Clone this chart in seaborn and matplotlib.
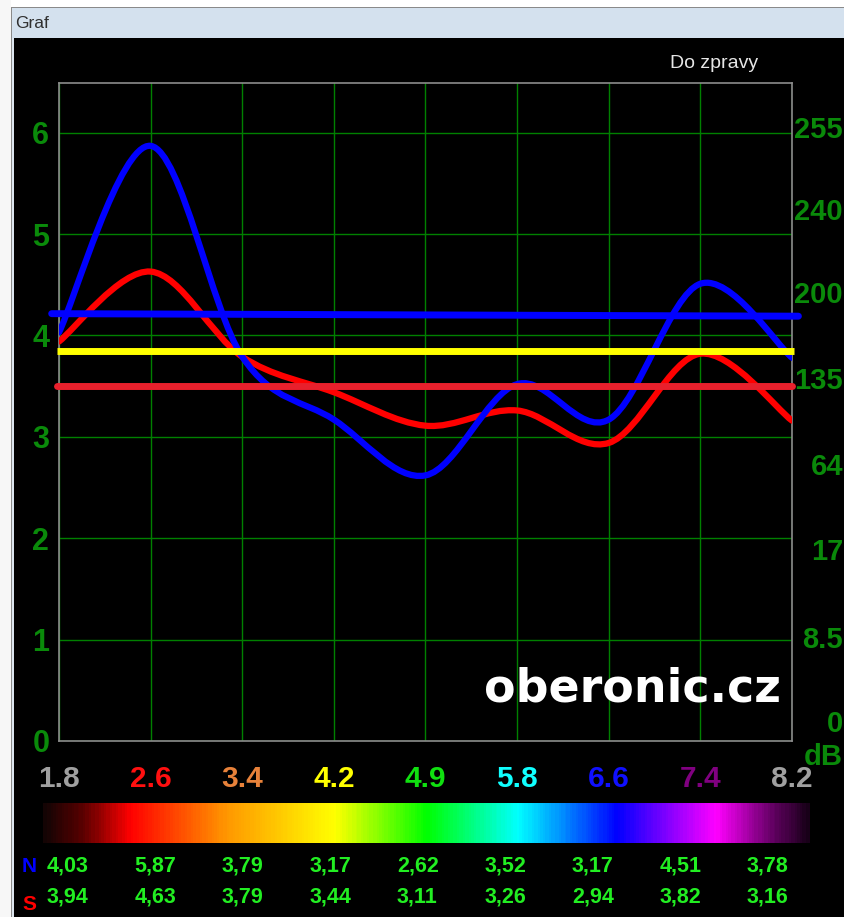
import numpy as np
import seaborn as sns
import matplotlib
matplotlib.use("Agg")
import matplotlib.pyplot as plt
from matplotlib.path import Path
from matplotlib.patches import PathPatch, Rectangle
from matplotlib.colors import LinearSegmentedColormap
from matplotlib.transforms import blended_transform_factory

freq_labels = ["1.8", "2.6", "3.4", "4.2", "4.9", "5.8", "6.6", "7.4", "8.2"]
freq_colors = ["#a0a0a0", "#ff1010", "#e8823a", "#ffff00", "#10e010",
               "#10ffff", "#1010ff", "#800080", "#a0a0a0"]
north = [4.03, 5.87, 3.79, 3.17, 2.62, 3.52, 3.17, 4.51, 3.78]
south = [3.94, 4.63, 3.79, 3.44, 3.11, 3.26, 2.94, 3.82, 3.16]
north_text = ["4,03", "5,87", "3,79", "3,17", "2,62", "3,52", "3,17", "4,51", "3,78"]
south_text = ["3,94", "4,63", "3,79", "3,44", "3,11", "3,26", "2,94", "3,82", "3,16"]
blue_level = [4.215, 4.19]   # left / right end
yellow_level = 3.85
red_level = 3.50
left_ticks = [0, 1, 2, 3, 4, 5, 6]
right_labels = ["0", "8.5", "17", "64", "135", "200", "240", "255"]
right_label_pos = [0.17, 1.0, 1.86, 2.7, 3.55, 4.4, 5.22, 6.03]

W, H = 845, 917
sns.set_style("dark")
plt.rcParams["font.family"] = ["Liberation Sans", "DejaVu Sans"]

fig = plt.figure(figsize=(W / 100, H / 100), dpi=100, facecolor="black")


def fx(px):
    return px / W


def fy(py):
    return 1 - py / H


# .:: Window chrome ::.
fig.patches.append(Rectangle((0, fy(7)), 1, 7 / H, transform=fig.transFigure,
                             facecolor="#ffffff", edgecolor="none", zorder=0))
fig.patches.append(Rectangle((0, fy(38)), 1, 31 / H, transform=fig.transFigure,
                             facecolor="#d4e1ee", edgecolor="none", zorder=0))
fig.patches.append(Rectangle((0, fy(8)), 1, 1 / H, transform=fig.transFigure,
                             facecolor="#8a8a8a", edgecolor="none", zorder=0))
fig.patches.append(Rectangle((0, 0), 11 / W, 1, transform=fig.transFigure,
                             facecolor="#f7f7f7", edgecolor="none", zorder=0))
fig.patches.append(Rectangle((11 / W, 0), 1 / W, fy(7), transform=fig.transFigure,
                             facecolor="#8a8a8a", edgecolor="none", zorder=0))
fig.patches.append(Rectangle((12 / W, 0), 2 / W, fy(38), transform=fig.transFigure,
                             facecolor="#dde6ef", edgecolor="none", zorder=0))
fig.text(fx(15), fy(24), "Graf", fontsize=12.5, color="#303030", va="center", ha="left")
fig.text(fx(670), fy(64), "Do zpravy", fontsize=14, color="#e6e6e6", va="center", ha="left")

# .:: Main plot ::.
ax = fig.add_axes([fx(59), fy(741), (792 - 59) / W, (741 - 83) / H])
ax.set_facecolor("black")
ax.set_xlim(0, 8)
ax.set_ylim(0, 6.49)
for s in ax.spines.values():
    s.set_visible(True)
    s.set_color("#8c8c8c")
    s.set_linewidth(1.2)

x = np.arange(len(north))
ax.set_xticks(x)
ax.set_xticklabels(freq_labels, fontsize=21.5, fontweight="bold")
for lab, c in zip(ax.get_xticklabels(), freq_colors):
    lab.set_color(c)
ax.set_yticks(left_ticks)
ax.set_yticklabels([str(t) for t in left_ticks], fontsize=22, fontweight="bold",
                   color="#0a8a0a")
ax.tick_params(axis="x", length=0, pad=17)
ax.tick_params(axis="y", length=0, pad=7)
ax.grid(True, color="#008000", linewidth=1.0)
ax.set_axisbelow(True)


def smooth_path(vals):
    # Catmull-Rom through the readings, drawn as cubic Bezier segments
    p = np.column_stack([x, vals]).astype(float)
    ext = np.vstack([p[0], p, p[-1]])
    verts = [tuple(p[0])]
    codes = [Path.MOVETO]
    for i in range(len(p) - 1):
        p0, p1, p2, p3 = ext[i], ext[i + 1], ext[i + 2], ext[i + 3]
        c1 = p1 + (p2 - p0) / 6
        c2 = p2 - (p3 - p1) / 6
        verts += [tuple(c1), tuple(c2), tuple(p2)]
        codes += [Path.CURVE4] * 3
    return Path(verts, codes)


for vals, col in [(south, "#ff0000"), (north, "#0000ff")]:
    patch = PathPatch(smooth_path(vals), facecolor="none", edgecolor=col,
                      linewidth=4.5, capstyle="round", joinstyle="round", zorder=3)
    ax.add_patch(patch)

ax.plot([-0.08, 8.07], blue_level, color="#0000ff", linewidth=5,
        solid_capstyle="round", clip_on=False, zorder=4)
ax.plot([-0.02, 8.0], [red_level, red_level], color="#e8202c", linewidth=5,
        solid_capstyle="round", clip_on=False, zorder=4)
ax.plot([-0.02, 8.02], [yellow_level, yellow_level], color="#ffff00", linewidth=5,
        solid_capstyle="butt", clip_on=False, zorder=4)

ax.text(0.985, 0.045, "oberonic.cz", transform=ax.transAxes, ha="right", va="bottom",
        fontsize=33, fontweight="bold", color="white", family="DejaVu Sans", zorder=5)

# right-hand dB labels at the window edge
tr = blended_transform_factory(fig.transFigure, ax.transData)
for lab, pos in zip(right_labels, right_label_pos):
    fig.text(fx(843), pos, lab, transform=tr, ha="right", va="center",
             fontsize=21, fontweight="bold", color="#0a8a0a")
fig.text(fx(843), fy(757), "dB", ha="right", va="center",
         fontsize=21, fontweight="bold", color="#0a8a0a")

# .:: Spectrum strip ::.
cax = fig.add_axes([fx(43), fy(843), (810 - 43) / W, 40 / H])
spectrum = LinearSegmentedColormap.from_list("spec", [
    (0.0, "#140404"), (0.05, "#5a0000"), (0.112, "#ff0000"), (0.24, "#ff9900"),
    (0.38, "#ffff00"), (0.50, "#00ff00"), (0.62, "#00ffff"), (0.75, "#0000ff"),
    (0.88, "#ff00ff"), (0.95, "#6a006a"), (1.0, "#180018")])
sns.heatmap(np.linspace(0, 1, 400)[None, :], cmap=spectrum, cbar=False,
            xticklabels=False, yticklabels=False, ax=cax)
cax.set_axis_off()

# .:: Value rows ::.
fig.text(fx(22), fy(866), "N", fontsize=15, fontweight="bold", color="#0000ff", va="center")
fig.text(fx(22), fy(904), "S", fontsize=15, fontweight="bold", color="#ff0000", va="center")
for i, (nt, st) in enumerate(zip(north_text, south_text)):
    fig.text(fx(47 + 87.5 * i), fy(866), nt, fontsize=15.5, fontweight="bold",
             color="#22ee22", va="center", ha="left")
    fig.text(fx(47 + 87.5 * i), fy(897), st, fontsize=15.5, fontweight="bold",
             color="#22ee22", va="center", ha="left")

fig.savefig("out.png", dpi=100, facecolor="black")
